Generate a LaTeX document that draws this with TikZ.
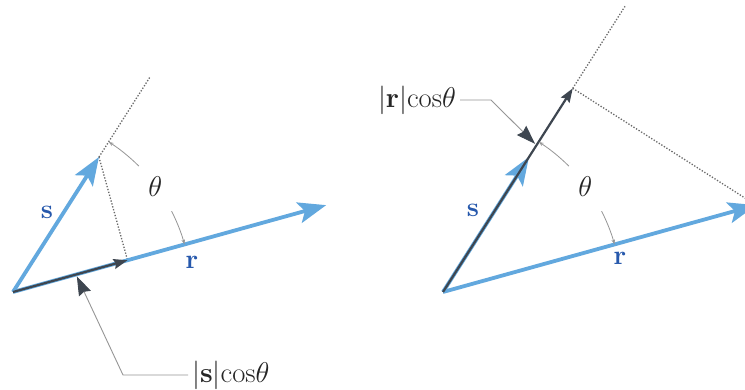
\documentclass[tikz,border=0pt]{standalone}
\usepackage{xcolor}
\definecolor{vecblue}{RGB}{98,168,222}
\definecolor{lblblue}{RGB}{38,88,172}
\definecolor{projgray}{RGB}{62,70,80}
\definecolor{guidegray}{RGB}{105,105,105}
\usetikzlibrary{arrows.meta,calc}

\tikzset{
  vec/.style={vecblue, line width=3.8pt, -{Stealth[length=28pt,width=21pt,inset=6pt]}},
  proj/.style={projgray, line width=2.2pt, -{Stealth[length=14pt,width=10pt,inset=2pt]}},
  guide/.style={guidegray, line width=1.3pt, dash pattern=on 1.3pt off 1.7pt},
  anglearc/.style={guidegray!70, line width=0.8pt},
  leader/.style={guidegray!70, line width=0.9pt, shorten >=2pt, -{Stealth[length=19pt,width=13pt,inset=2pt,color=projgray]}},
  vlabel/.style={text=lblblue, font=\Huge, scale=1.1},
  mlabel/.style={text=black!85, font=\Huge, scale=1.15}
}

\begin{document}
\begin{tikzpicture}[x=1pt,y=1pt]
  \clip (0,0) rectangle (745,390);
  \fill[white] (0,0) rectangle (745,390);

  % left: s projected onto r
  \coordinate (o1) at (13,98);
  \coordinate (s1) at ($(o1)+(57.5:160)$);
  \coordinate (r1) at ($(o1)+(15.5:325)$);
  \coordinate (p1) at ($(o1)!(s1)!(r1)$);
  \coordinate (e1) at ($(o1)+(57.5:256)$);
  \coordinate (t1) at ($(o1)!0.55!(p1)$);
  \draw[guide] (s1) -- (e1);
  \draw[guide] (s1) -- (p1);
  \draw[vec] (o1) -- (r1);
  \draw[vec] (o1) -- (s1);
  \draw[proj] (o1) -- (p1);
  \draw[anglearc, {Stealth[length=5pt,width=3.5pt]}-] ($(o1)+(57.5:178)$) arc[start angle=57.5, end angle=45, radius=178pt];
  \draw[anglearc, -{Stealth[length=5pt,width=3.5pt]}] ($(o1)+(27:178)$) arc[start angle=27, end angle=15.5, radius=178pt];
  \node[mlabel] (th1) at ($(o1)+(36.5:177)$) {$\theta$};
  \node[vlabel] (sl1) at (47,178) {$\mathbf{s}$};
  \node[vlabel] (rl1) at (192,128) {$\mathbf{r}$};
  \node[mlabel, anchor=west] (len1) at (188,15) {$|\mathbf{s}|\mathrm{cos}\theta$};
  \draw[leader] (len1.west) -- ++(-65,0) -- (t1);

  % right: r projected onto s
  \coordinate (o2) at (443,98);
  \coordinate (s2) at ($(o2)+(57.5:160)$);
  \coordinate (r2) at ($(o2)+(15.5:325)$);
  \coordinate (p2) at ($(o2)!(r2)!(s2)$);
  \coordinate (e2) at ($(o2)+(57.5:340)$);
  \coordinate (t2) at ($(o2)+(57.5:174)$);
  \draw[guide] (p2) -- (e2);
  \draw[guide] (p2) -- (r2);
  \draw[vec] (o2) -- (r2);
  \draw[vec] (o2) -- (s2);
  \draw[proj] (o2) -- (p2);
  \draw[anglearc, {Stealth[length=5pt,width=3.5pt]}-] ($(o2)+(57.5:178)$) arc[start angle=57.5, end angle=45, radius=178pt];
  \draw[anglearc, -{Stealth[length=5pt,width=3.5pt]}] ($(o2)+(27:178)$) arc[start angle=27, end angle=15.5, radius=178pt];
  \node[mlabel] (th2) at ($(o2)+(36.5:177)$) {$\theta$};
  \node[vlabel] (sl2) at (473,180) {$\mathbf{s}$};
  \node[vlabel] (rl2) at (620,132) {$\mathbf{r}$};
  \node[mlabel] (len2) at (417,290) {$|\mathbf{r}|\mathrm{cos}\theta$};
  \draw[leader] (len2.east) -- ++(31,0) -- (t2);
\end{tikzpicture}
\end{document}
